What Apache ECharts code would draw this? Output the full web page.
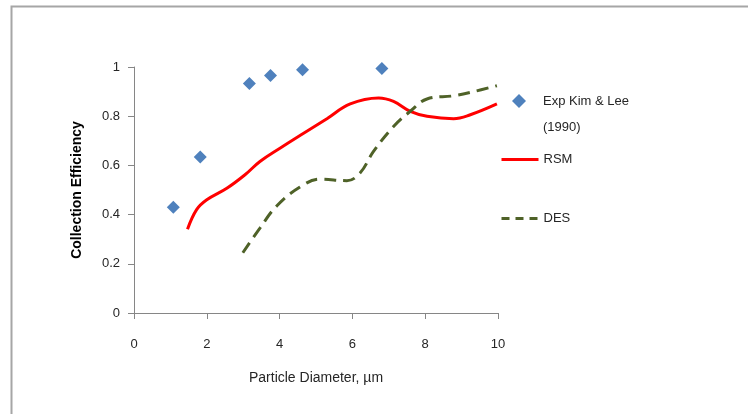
<!DOCTYPE html>
<html>
<head>
<meta charset="utf-8">
<script src="https://cdn.jsdelivr.net/npm/echarts@6/dist/echarts.min.js"></script>
<style>
  html, body { margin: 0; padding: 0; background: #fff; }
  #chart { width: 748px; height: 414px; }
</style>
</head>
<body>
<div id="chart"></div>
<script>
  // measured points (x = particle diameter, y = efficiency)
  var expData = [[1.08, 0.43], [1.82, 0.634], [3.17, 0.933], [3.75, 0.965], [4.63, 0.989], [6.81, 0.994]];
  var rsmData = [[1.47, 0.34], [1.72, 0.42], [2.0, 0.46], [2.55, 0.507], [3.05, 0.562], [3.46, 0.616],
    [4.01, 0.67], [4.66, 0.731], [5.3, 0.79], [5.94, 0.85], [6.72, 0.874], [7.13, 0.86], [7.59, 0.82],
    [8.05, 0.80], [8.78, 0.79], [9.24, 0.806], [9.97, 0.85]];
  var desData = [[2.99, 0.245], [3.46, 0.345], [3.92, 0.435], [4.56, 0.512], [5.11, 0.544], [5.85, 0.538],
    [6.21, 0.569], [6.58, 0.657], [7.13, 0.758], [7.59, 0.82], [8.05, 0.87], [8.78, 0.883], [9.33, 0.90],
    [9.97, 0.924]];
  var seriesNames = ['Exp Kim & Lee', 'RSM', 'DES'];

  var font = '"Liberation Sans", Arial, sans-serif';
  var axisColor = '#868686';
  var txt = '#262626';

  var chart = echarts.init(document.getElementById('chart'));
  chart.setOption({
    animation: false,
    textStyle: { fontFamily: font },
    grid: { left: 134, right: 250, top: 67, bottom: 101 },
    legend: [
      {
        orient: 'vertical', left: 507, top: 89, itemWidth: 14, itemHeight: 14,
        data: [{ name: seriesNames[0], icon: 'diamond' }],
        textStyle: { fontFamily: font, fontSize: 13, color: txt, padding: [0, 0, 0, 12] }
      },
      {
        orient: 'vertical', left: 495, top: 148, itemWidth: 37, itemHeight: 14,
        itemStyle: { opacity: 0 },
        lineStyle: { width: 3 },
        data: [seriesNames[1]],
        textStyle: { fontFamily: font, fontSize: 13, color: txt }
      },
      {
        orient: 'vertical', left: 495, top: 207, itemWidth: 37, itemHeight: 14,
        itemStyle: { opacity: 0 },
        lineStyle: { width: 3, type: [8, 6] },
        data: [seriesNames[2]],
        textStyle: { fontFamily: font, fontSize: 13, color: txt }
      }
    ],
    graphic: [
      {
        type: 'rect', silent: true,
        shape: { x: 11.5, y: 6.5, width: 800, height: 500 },
        style: { fill: 'none', stroke: '#a6a6a6', lineWidth: 2 }
      },
      {
        type: 'text', left: 543, top: 121,
        style: { text: '(1990)', font: '13px ' + font, fill: txt }
      }
    ],
    xAxis: {
      type: 'value', min: 0, max: 10, interval: 2,
      name: 'Particle Diameter, \u00b5m', nameLocation: 'middle', nameGap: 58,
      nameTextStyle: { fontFamily: font, fontSize: 14, color: txt },
      splitLine: { show: false },
      axisLine: { onZero: false, lineStyle: { color: axisColor, width: 1 } },
      axisTick: { length: 6, lineStyle: { color: axisColor } },
      axisLabel: { margin: 25, fontSize: 13, color: txt, fontFamily: font }
    },
    yAxis: {
      type: 'value', min: 0, max: 1, interval: 0.2,
      name: 'Collection Efficiency', nameLocation: 'middle', nameGap: 50,
      nameTextStyle: { fontFamily: font, fontSize: 14, fontWeight: 'bold', color: '#000' },
      splitLine: { show: false },
      axisLine: { show: true, lineStyle: { color: axisColor, width: 1 } },
      axisTick: { show: true, length: 6, lineStyle: { color: axisColor } },
      axisLabel: { margin: 14, fontSize: 13, color: txt, fontFamily: font }
    },
    series: [
      {
        name: seriesNames[0], type: 'scatter', symbol: 'diamond', symbolSize: 13,
        itemStyle: { color: '#4F81BD', opacity: 1 },
        data: expData
      },
      {
        name: seriesNames[1], type: 'line', symbol: 'none', smooth: 0.4,
        lineStyle: { color: '#FF0000', width: 3 },
        itemStyle: { color: '#FF0000' },
        data: rsmData
      },
      {
        name: seriesNames[2], type: 'line', symbol: 'none', smooth: 0.4,
        lineStyle: { color: '#4F6228', width: 3, type: [12, 7] },
        itemStyle: { color: '#4F6228' },
        data: desData
      }
    ]
  });
</script>
</body>
</html>
